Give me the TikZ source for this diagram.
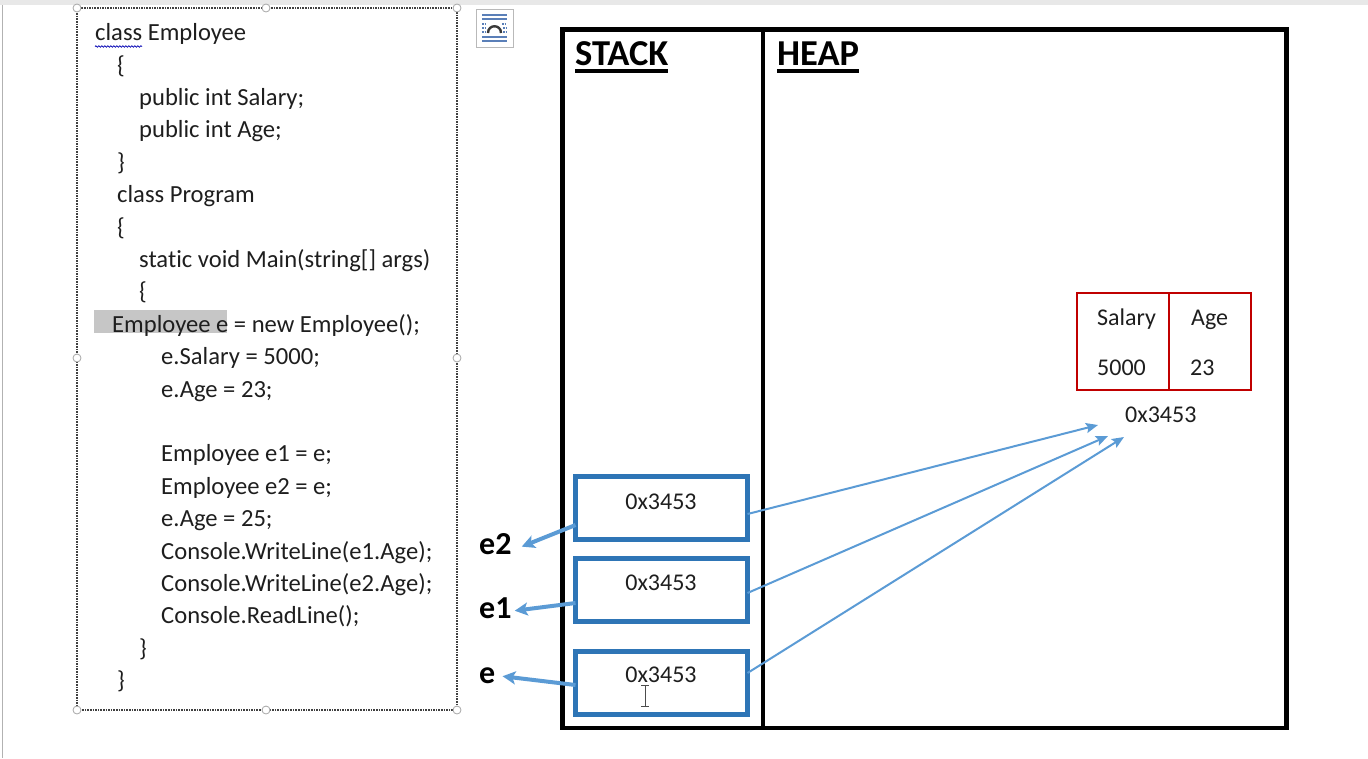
\documentclass[tikz,border=0pt]{standalone}
\usepackage{fontspec}
\setmainfont{Carlito}[Ligatures=NoCommon]
\usetikzlibrary{arrows.meta,decorations.pathmorphing}
\definecolor{boxblue}{HTML}{2E75B6}
\definecolor{arrblue}{HTML}{5B9BD5}
\definecolor{cellred}{HTML}{C00000}
\definecolor{hilite}{HTML}{C6C6C6}
\definecolor{ink}{HTML}{1E1E1E}
\definecolor{iconblue}{HTML}{5A7FB8}
\begin{document}
\begin{tikzpicture}[x=1pt,y=-1pt,
  code/.style={anchor=base west,inner sep=0pt,font=\fontsize{24.6}{24.6}\selectfont,text=ink},
  txt/.style={inner sep=0pt,font=\fontsize{24}{24}\selectfont,text=ink},
  celltxt/.style={txt,anchor=base west},
  heading/.style={anchor=base west,inner sep=0pt,font=\bfseries\fontsize{36.5}{36.5}\selectfont},
  varlabel/.style={anchor=base west,inner sep=0pt,font=\bfseries\fontsize{32}{32}\selectfont},
  stackbox/.style={draw=boxblue,line width=5pt,minimum width=172pt,minimum height=63pt,inner sep=0pt,outer sep=0pt},
  handle/.style={draw=gray!70,fill=white,line width=0.8pt,circle,minimum size=8pt,inner sep=0pt},
  namearrow/.style={draw=arrblue,line width=4pt,-{Stealth[length=13pt,width=13pt,inset=3pt]}},
  refarrow/.style={draw=arrblue,line width=2pt,-{Stealth[length=12pt,width=10pt,inset=2pt]}},
  iconline/.style={draw=iconblue,line width=1.6pt}]
\useasboundingbox (0,0) rectangle (1368,758);

% window chrome
\fill[gray!18] (0,0) rectangle (1368,5);
\draw[gray!60,line width=1pt] (2,5) -- (2,758);

% code text box
\draw[black!75,line width=1.2pt,dash pattern=on 1.6pt off 1pt] (77,8) rectangle (457,710);
\fill[hilite] (94,310) rectangle (227,333);
\node[code] (c1)  at (95,40.7)  {class Employee};
\draw[draw=blue!70!black,line width=0.7pt,decorate,decoration={snake,amplitude=0.8pt,segment length=3pt}] (95,46.5) -- (142,46.5);
\node[code] (c2)  at (117,73.1)  {\{};
\node[code] (c3)  at (139,105.5) {public int Salary;};
\node[code] (c4)  at (139,137.9) {public int Age;};
\node[code] (c5)  at (117,170.3) {\}};
\node[code] (c6)  at (117,202.7) {class Program};
\node[code] (c7)  at (117,235.1) {\{};
\node[code] (c8)  at (139,267.5) {static void Main(string[] args)};
\node[code] (c9)  at (139,299.9) {\{};
\node[code] (c10) at (112,332.3) {Employee e = new Employee();};
\node[code] (c11) at (161,364.7) {e.Salary = 5000;};
\node[code] (c12) at (161,397.1) {e.Age = 23;};
\node[code] (c14) at (161,461.9) {Employee e1 = e;};
\node[code] (c15) at (161,494.3) {Employee e2 = e;};
\node[code] (c16) at (161,526.7) {e.Age = 25;};
\node[code] (c17) at (161,559.1) {Console.WriteLine(e1.Age);};
\node[code] (c18) at (161,591.5) {Console.WriteLine(e2.Age);};
\node[code] (c19) at (161,623.9) {Console.ReadLine();};
\node[code] (c20) at (139,656.3) {\}};
\node[code] (c21) at (117,688.7) {\}};
\foreach \hx/\hy [count=\k] in {77/8,266/8,457/8,77/358,457/358,77/710,266/710,457/710}
  \node[handle] (h\k) at (\hx,\hy) {};

% layout options icon
\node[draw=gray!55,fill=white,line width=1pt,minimum width=37pt,minimum height=38pt,inner sep=0pt] (icon) at (494.5,28) {};
\draw[iconline] (482,15) -- (507,15) (482,19) -- (507,19) (482,37) -- (507,37) (482,41) -- (507,41);
\draw[iconline,line width=1.2pt,dash pattern=on 1.5pt off 1.2pt] (482,24) -- (487,24) (482,28) -- (486,28) (482,32) -- (486,32)
  (502,24) -- (507,24) (503,28) -- (507,28) (503,32) -- (507,32);
\draw[gray!45!black,line width=2.4pt] (488,33) .. controls (488,24) and (501,24) .. (501,33);

% memory frame
\draw[line width=4.5pt] (562.5,29.5) rectangle (1286.5,728);
\draw[line width=4pt] (763,29.5) -- (763,728);
\node[heading] (stack) at (575,65) {STACK};
\node[heading] (heap) at (777,65) {HEAP};
\draw[line width=3.2pt] ([yshift=-6pt]stack.base west) -- ([yshift=-6pt]stack.base east);
\draw[line width=3.2pt] ([yshift=-6pt]heap.base west) -- ([yshift=-6pt]heap.base east);

% stack slots
\node[stackbox] (s2) at (661.5,508) {};
\node[stackbox] (s1) at (661.5,590) {};
\node[stackbox] (s0) at (661.5,683) {};
\node[txt] (a2) at (661,501.5) {0x3453};
\node[txt] (a1) at (661,582.5) {0x3453};
\node[txt] (a0) at (661,675) {0x3453};
\draw[gray!60!black,line width=1pt] (645,685) -- (645,706) (641,685) -- (649,685) (641,706) -- (649,706);

% variable names
\node[varlabel] (e2) at (479,554) {e2};
\node[varlabel] (e1) at (479,618) {e1};
\node[varlabel] (e0) at (479,683) {e};
\draw[namearrow] ([yshift=-17pt]s2.west) -- ([xshift=10pt,yshift=-3pt]e2.east);
\draw[namearrow] ([yshift=-13pt]s1.west) -- ([xshift=3pt,yshift=-3pt]e1.east);
\draw[namearrow] ([yshift=-2pt]s0.west) -- ([xshift=7pt,yshift=-1pt]e0.east);

% heap object
\draw[cellred,line width=2.5pt] (1077,293) rectangle (1251,390);
\draw[cellred,line width=2.5pt] (1169,293) -- (1169,390);
\node[celltxt] (salary) at (1097,325) {Salary};
\node[celltxt] (age) at (1191,325) {Age};
\node[celltxt] (sval) at (1097,375) {5000};
\node[celltxt] (aval) at (1190,375) {23};
\node[celltxt] (addr) at (1125,422) {0x3453};
\coordinate (t2) at (1098,425);
\coordinate (t1) at (1108,436);
\coordinate (t0) at (1124,437);
\draw[refarrow] ([yshift=-6pt]s2.east) -- (t2);
\draw[refarrow] ([yshift=-3pt]s1.east) -- (t1);
\draw[refarrow] ([yshift=10pt]s0.east) -- (t0);
\end{tikzpicture}
\end{document}
